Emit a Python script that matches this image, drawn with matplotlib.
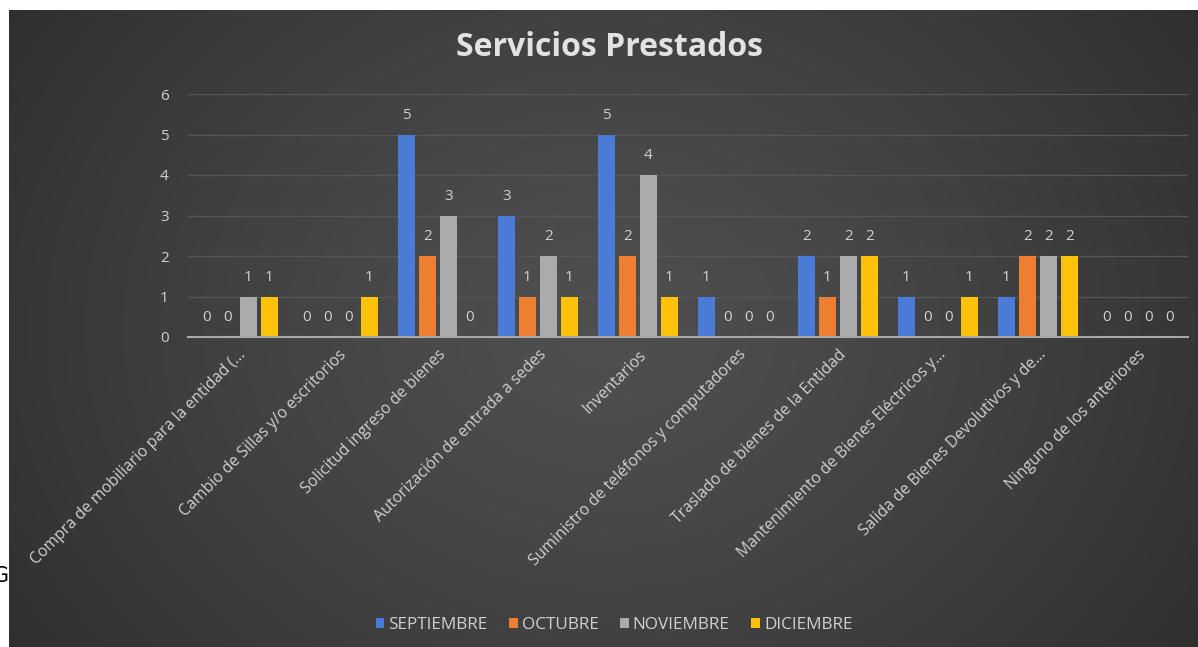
import numpy as np
import matplotlib
matplotlib.use("Agg")
import matplotlib.pyplot as plt
from matplotlib.patches import Patch

plt.rcParams['font.family'] = ['Open Sans', 'DejaVu Sans']

categories = [
    "Compra de mobiliario para la entidad (...",
    "Cambio de Sillas y/o escritorios",
    "Solicitud ingreso de bienes",
    "Autorización de entrada a sedes",
    "Inventarios",
    "Suministro de teléfonos y computadores",
    "Traslado de bienes de la Entidad",
    "Mantenimiento de Bienes Eléctricos y...",
    "Salida de Bienes Devolutivos y de...",
    "Ninguno de los anteriores",
]
series_names = ["SEPTIEMBRE", "OCTUBRE", "NOVIEMBRE", "DICIEMBRE"]
septiembre = [0, 0, 5, 3, 5, 1, 2, 1, 1, 0]
octubre = [0, 0, 2, 1, 2, 0, 1, 0, 2, 0]
noviembre = [1, 0, 3, 2, 4, 0, 2, 0, 2, 0]
diciembre = [1, 1, 0, 1, 1, 0, 2, 1, 2, 0]
y_ticks = [0, 1, 2, 3, 4, 5, 6]

series = [septiembre, octubre, noviembre, diciembre]
colors = ["#4A7BD6", "#EE7E32", "#ABABAB", "#FFC20A"]
text_col = "#D0D0D0"

W, H = 1198, 647
fig = plt.figure(figsize=(W / 100, H / 100), dpi=100, facecolor="white")

# dark panel with a soft radial glow
bg = fig.add_axes([9 / W, 0, 1 - 9 / W, 1 - 10 / H])
bg.set_axis_off()
gx, gy = np.meshgrid(np.linspace(0, 1, 600), np.linspace(0, 1, 330))
r = np.sqrt(((gx - 0.5) / 0.62) ** 2 + ((gy - 0.5) / 0.95) ** 2)
shade = 0.31 - 0.13 * np.clip(r, 0, 1) ** 1.3
img = np.dstack([shade, shade, shade])
bg.imshow(img, aspect="auto", extent=[0, 1, 0, 1], interpolation="bicubic")
bg.set_xlim(0, 1)
bg.set_ylim(0, 1)

ax = fig.add_axes([188 / W, (H - 337) / H, 1000 / W, (337 - 94) / H])
ax.set_facecolor("none")

x = np.arange(len(categories))
step = 0.21
width = 0.175
offsets = (np.arange(4) - 1.5) * step
for vals, off, col, name in zip(series, offsets, colors, series_names):
    bars = ax.bar(x + off, vals, width=width, color=col, label=name, zorder=3)
    for b, v in zip(bars, vals):
        ax.annotate(str(v), (b.get_x() + b.get_width() / 2, v),
                    xytext=(0, 14), textcoords="offset points",
                    ha="center", va="center", fontsize=11, color=text_col)

ax.set_xlim(-0.5, len(categories) - 0.5)
ax.set_ylim(0, 6)
ax.set_yticks(y_ticks)
ax.set_yticklabels([str(t) for t in y_ticks], fontsize=11, color=text_col)
ax.yaxis.grid(True, color="#555555", linewidth=1, zorder=0)
ax.set_axisbelow(True)
for s in ["top", "right", "left"]:
    ax.spines[s].set_visible(False)
ax.spines["bottom"].set_color("#A8A8A8")
ax.spines["bottom"].set_linewidth(1.5)
ax.spines["bottom"].set_zorder(4)
ax.tick_params(axis="both", length=0)
ax.tick_params(axis="y", pad=14)
ax.set_xticks(x)
ax.set_xticklabels(categories, rotation=45, ha="right", va="top",
                   rotation_mode="anchor", fontsize=11.3, color=text_col)
ax.tick_params(axis="x", pad=7)

fig.text(610 / W, 1 - 48 / H, "Servicios Prestados", ha="center", va="center",
         fontsize=23, fontweight="bold", color="#E2E2E2")

handles = [Patch(facecolor=c, edgecolor="none") for c in colors]
fig.legend(handles, series_names, loc="center", ncol=4,
           bbox_to_anchor=(614 / W, 1 - 625 / H), frameon=False,
           fontsize=12.3, labelcolor=text_col, handlelength=0.5,
           handleheight=0.5, handletextpad=0.25, columnspacing=1.25)

fig.text(9 / W, 1 - 576 / H, "G", ha="right", va="center", fontsize=15,
         color="black", family="DejaVu Sans")

fig.savefig("out.png", dpi=100, facecolor="white")
